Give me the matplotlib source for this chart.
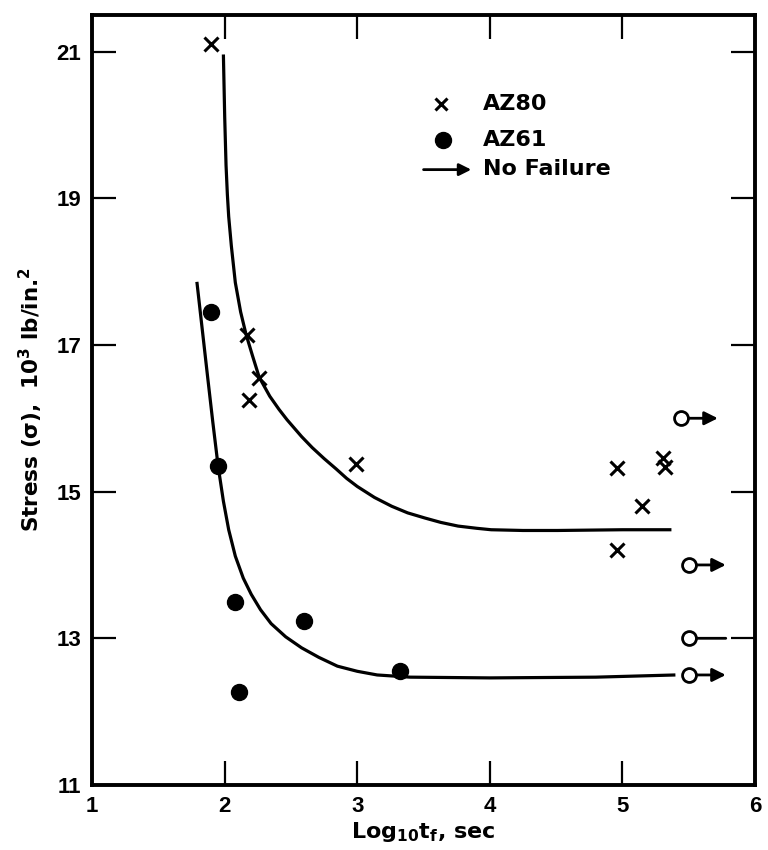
import matplotlib
matplotlib.use("Agg")
import matplotlib.pyplot as plt

plt.rcParams['font.family'] = ['Liberation Sans', 'DejaVu Sans']
plt.rcParams['font.weight'] = 'bold'
plt.rcParams['mathtext.fontset'] = 'custom'
plt.rcParams['mathtext.rm'] = 'DejaVu Sans:bold'
plt.rcParams['mathtext.it'] = 'DejaVu Sans:bold'
plt.rcParams['mathtext.bf'] = 'DejaVu Sans:bold'

LABEL_FONT = ['DejaVu Sans']

# AZ80 specimens (log10 time to failure, stress in 10^3 lb/in^2)
az80_x = [1.90, 2.17, 2.18, 2.26, 2.99, 4.96, 5.31, 5.32, 5.15, 4.96]
az80_y = [21.10, 17.14, 16.25, 16.55, 15.38, 15.32, 15.46, 15.33, 14.80, 14.20]

# AZ61 specimens
az61_x = [1.90, 1.95, 2.08, 2.11, 2.60, 3.32]
az61_y = [17.45, 15.35, 13.50, 12.27, 13.24, 12.56]

# Run-outs (no failure)
nf_x = [5.44, 5.50, 5.50, 5.50]
nf_y = [16.0, 14.0, 13.0, 12.5]
nf_arrow = [True, True, False, True]

# Fitted trend curves
az80_curve_x = [1.99, 2.00, 2.01, 2.02, 2.03, 2.05, 2.08, 2.12, 2.16, 2.21,
                2.26, 2.34, 2.41, 2.47, 2.58, 2.66, 2.75, 2.84, 2.92, 3.00,
                3.13, 3.26, 3.38, 3.51, 3.63, 3.76, 3.90, 4.01, 4.25, 4.51,
                5.00, 5.37]
az80_curve_y = [20.96, 20.10, 19.45, 19.05, 18.75, 18.35, 17.85, 17.45, 17.15, 16.85,
                16.56, 16.30, 16.12, 15.98, 15.75, 15.60, 15.45, 15.31, 15.18, 15.07,
                14.92, 14.80, 14.71, 14.64, 14.58, 14.53, 14.50, 14.48, 14.47, 14.47,
                14.48, 14.48]

az61_curve_x = [1.79, 1.83, 1.87, 1.91, 1.95, 1.99, 2.03, 2.08, 2.14, 2.20,
                2.27, 2.35, 2.46, 2.58, 2.71, 2.85, 3.00, 3.15, 3.40, 4.00,
                4.80, 5.40]
az61_curve_y = [17.86, 17.22, 16.58, 15.95, 15.35, 14.87, 14.48, 14.12, 13.82, 13.60,
                13.39, 13.20, 13.02, 12.87, 12.74, 12.62, 12.55, 12.50, 12.47, 12.46,
                12.47, 12.50]

x_ticks = [1, 2, 3, 4, 5, 6]
y_ticks = [11, 13, 15, 17, 19, 21]

fig = plt.figure(figsize=(7.68, 8.5), dpi=100)
ax = fig.add_axes([0.120, 0.0765, 0.863, 0.906])

ax.plot(az80_curve_x, az80_curve_y, color='black', lw=2.3,
        solid_capstyle='butt', solid_joinstyle='round')
ax.plot(az61_curve_x, az61_curve_y, color='black', lw=2.3,
        solid_capstyle='butt', solid_joinstyle='round')

ax.plot(az80_x, az80_y, linestyle='none', marker='x', markersize=10,
        markeredgewidth=2.2, color='black', zorder=5)
ax.plot(az61_x, az61_y, linestyle='none', marker='o', markersize=11.5,
        color='black', zorder=5)

for x, y, has_head in zip(nf_x, nf_y, nf_arrow):
    style = '-|>' if has_head else '-'
    ax.annotate('', xy=(x + 0.28, y), xytext=(x, y),
                arrowprops=dict(arrowstyle=style, color='black', lw=2.0,
                                shrinkA=6, shrinkB=0, mutation_scale=20))
    ax.plot([x], [y], linestyle='none', marker='o', markersize=10,
            markerfacecolor='white', markeredgecolor='black',
            markeredgewidth=2.0, zorder=6)

# Legend drawn in data space
ax.plot([3.63], [20.28], linestyle='none', marker='x', markersize=9,
        markeredgewidth=2.2, color='black')
ax.plot([3.65], [19.80], linestyle='none', marker='o', markersize=11.5,
        color='black')
ax.annotate('', xy=(3.86, 19.39), xytext=(3.50, 19.39),
            arrowprops=dict(arrowstyle='-|>', color='black', lw=2.0,
                            shrinkA=0, shrinkB=0, mutation_scale=18))
legend_kw = dict(fontsize=16, fontweight='bold', va='center', ha='left',
                 family=LABEL_FONT)
ax.text(3.95, 20.28, 'AZ80', **legend_kw)
ax.text(3.95, 19.80, 'AZ61', **legend_kw)
ax.text(3.95, 19.40, 'No Failure', **legend_kw)

ax.set_xlim(1, 6)
ax.set_ylim(11, 21.5)
ax.set_xticks(x_ticks)
ax.set_yticks(y_ticks)
ax.set_xticklabels([str(v) for v in x_ticks], fontsize=16, fontweight='bold')
ax.set_yticklabels([str(v) for v in y_ticks], fontsize=16, fontweight='bold')
ax.tick_params(direction='in', length=17, width=1.6, top=True, right=True,
               pad=8)

for side in ax.spines.values():
    side.set_linewidth(2.8)

ax.set_xlabel(r'Log$_{10}$t$_{f}$, sec', fontsize=16, fontweight='bold',
              family=LABEL_FONT, labelpad=2)
ax.set_ylabel(r'Stress ($\sigma$),  10$^3$ lb/in.$^2$', fontsize=15.5,
              fontweight='bold', family=LABEL_FONT, labelpad=8)

fig.savefig('out.png', dpi=100, facecolor='white')
